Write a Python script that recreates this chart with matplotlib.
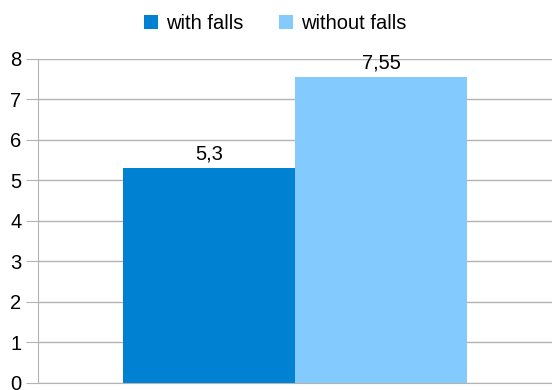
import matplotlib.pyplot as plt

series = ["with falls", "without falls"]
values = [5.3, 7.55]
labels = ["5,3", "7,55"]
colors = ["#0081d1", "#83caff"]
yticks = [0, 1, 2, 3, 4, 5, 6, 7, 8]

plt.rcParams['font.family'] = ['Liberation Sans', 'DejaVu Sans']
fs = 14.5

fig = plt.figure(figsize=(5.52, 3.9), dpi=100)
ax = fig.add_axes([0.069, 0.018, 0.931, 0.831])

width = 0.335
offsets = [-width / 2, width / 2]
for name, val, lab, col, off in zip(series, values, labels, colors, offsets):
    ax.bar(off, val, width=width, color=col, label=name, zorder=2)
    ax.text(off, val + 0.12, lab, ha="center", va="bottom", fontsize=fs)

ax.set_xlim(-0.5, 0.5)
ax.set_ylim(0, 8)
ax.set_yticks(yticks)
ax.set_xticks([])
ax.tick_params(axis="y", length=9, color="#b3b3b3", labelsize=fs, pad=3)
ax.grid(axis="y", color="#b3b3b3", linewidth=1, zorder=0)
for s in ["top", "right"]:
    ax.spines[s].set_visible(False)
for s in ["left", "bottom"]:
    ax.spines[s].set_color("#b3b3b3")

fig.legend(loc="upper center", bbox_to_anchor=(0.498, 1.01), ncol=2, frameon=False,
           fontsize=fs, handlelength=0.7, handleheight=0.7, handletextpad=0.4,
           columnspacing=1.75)

fig.savefig("out.png")
